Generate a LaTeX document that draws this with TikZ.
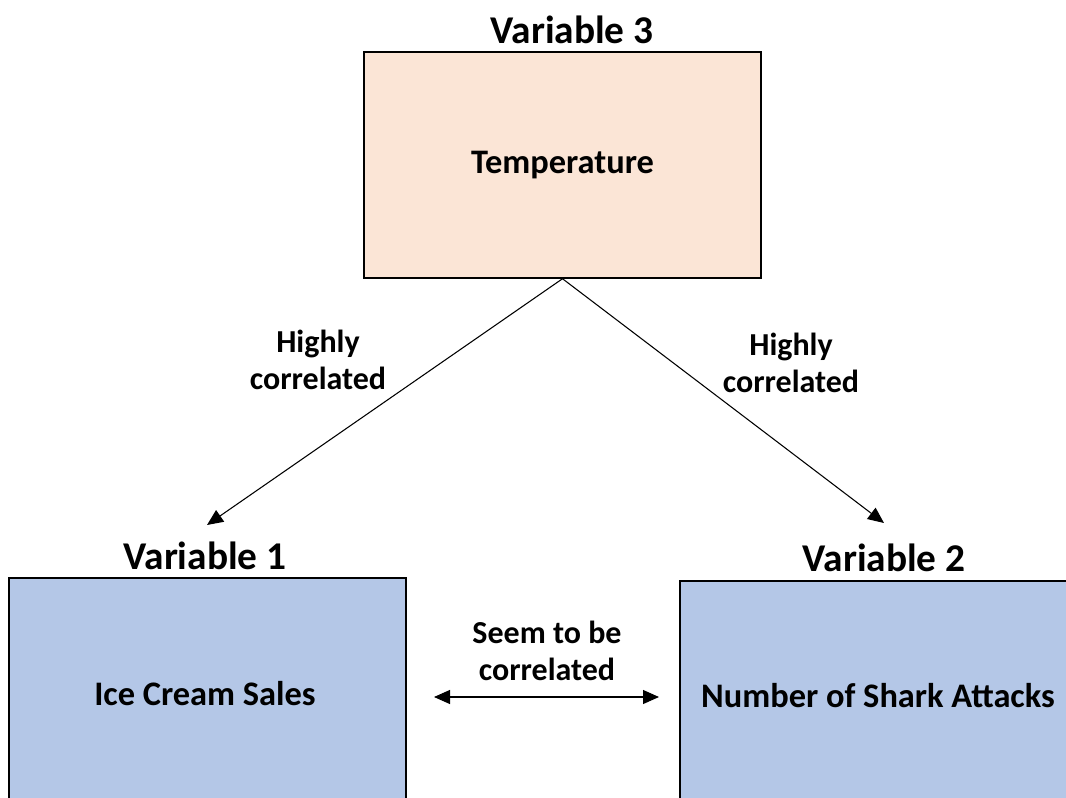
\documentclass[tikz,border=0pt]{standalone}
\usepackage{fontspec}
\setmainfont{Carlito}
\usetikzlibrary{arrows.meta}
\definecolor{peach}{HTML}{FBE5D6}
\definecolor{paleblue}{HTML}{B4C7E7}
\begin{document}
\begin{tikzpicture}[x=0.75pt,y=-0.75pt,
  box/.style={draw=black,line width=1.1pt,inner sep=0pt},
  boxtext/.style={font=\bfseries\fontsize{25.8}{30}\selectfont},
  varlabel/.style={font=\bfseries\fontsize{29.5}{34}\selectfont},
  edgelabel/.style={font=\bfseries\fontsize{24}{28}\selectfont,align=center},
  tip/.style={Triangle[length=12pt,width=10.5pt]},
  conn/.style={line width=0.8pt,-{Triangle[length=12pt,width=10.5pt]}},
  dconn/.style={line width=0.8pt,{Triangle[length=12pt,width=10.5pt]}-{Triangle[length=12pt,width=10.5pt]}}]
\useasboundingbox (0,0) rectangle (1066,798);
\clip (0,0) rectangle (1066,798);
\fill[white] (0,0) rectangle (1066,798);
% boxes
\node[box,fill=peach,minimum width=297.75pt,minimum height=169.5pt,boxtext] (top) at (562.5,165) {Temperature};
\node[box,fill=paleblue,minimum width=297.75pt,minimum height=189pt] (left) at (207.5,704) {};
\node[box,fill=paleblue,minimum width=315pt,minimum height=186.75pt] (right) at (890,705.5) {};
\node[boxtext] (lefttext) at (205,694) {Ice Cream Sales};
\node[boxtext] (righttext) at (878,696) {Number of Shark Attacks};
% variable labels
\node[varlabel] (v3) at (572,30) {Variable 3};
\node[varlabel] (v1) at (205,556) {Variable 1};
\node[varlabel] (v2) at (884,558) {Variable 2};
% connectors
\coordinate (lend) at (207,525);
\coordinate (rend) at (884,523);
\draw[conn] (top.south) -- (lend);
\draw[conn] (top.south) -- (rend);
\coordinate (da) at (434,697);
\coordinate (db) at (659,697);
\draw[dconn] (da) -- (db);
% edge labels
\node[edgelabel] (l1) at (318,360) {Highly\\correlated};
\node[edgelabel] (l2) at (791,363) {Highly\\correlated};
\node[edgelabel] (l3) at (547,651) {Seem to be\\correlated};
\end{tikzpicture}
\end{document}
